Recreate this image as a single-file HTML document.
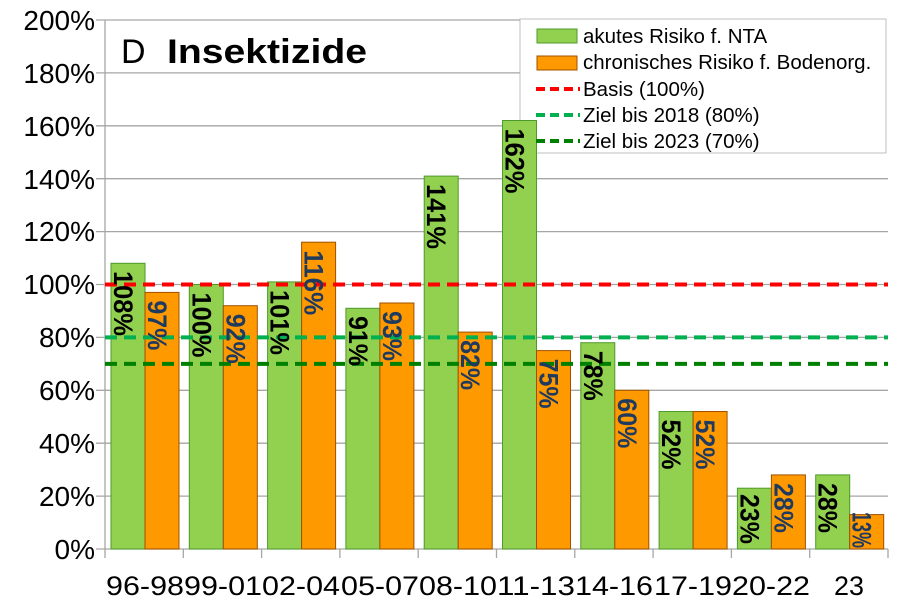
<!DOCTYPE html>
<html><head><meta charset="utf-8"><style>body{margin:0;background:#fff}svg{display:block}text{font-family:"Liberation Sans",sans-serif}</style></head><body>
<svg width="900" height="609" viewBox="0 0 900 609" xmlns="http://www.w3.org/2000/svg">
<rect x="520" y="19" width="366" height="134" fill="#fff" stroke="#bfbfbf" stroke-width="1"/>
<g stroke="#a6a6a6" stroke-width="1.3">
<line x1="96" y1="549" x2="888" y2="549"/><line x1="96" y1="496.1" x2="888" y2="496.1"/><line x1="96" y1="443.2" x2="888" y2="443.2"/><line x1="96" y1="390.3" x2="888" y2="390.3"/><line x1="96" y1="337.4" x2="888" y2="337.4"/><line x1="96" y1="284.5" x2="888" y2="284.5"/><line x1="96" y1="231.6" x2="888" y2="231.6"/><line x1="96" y1="178.7" x2="888" y2="178.7"/><line x1="96" y1="125.8" x2="520" y2="125.8"/><line x1="96" y1="72.9" x2="520" y2="72.9"/><line x1="96" y1="20" x2="520" y2="20"/>
<line x1="105" y1="20" x2="105" y2="558"/>
<line x1="183.3" y1="549" x2="183.3" y2="558"/><line x1="261.6" y1="549" x2="261.6" y2="558"/><line x1="339.9" y1="549" x2="339.9" y2="558"/><line x1="418.2" y1="549" x2="418.2" y2="558"/><line x1="496.5" y1="549" x2="496.5" y2="558"/><line x1="574.8" y1="549" x2="574.8" y2="558"/><line x1="653.1" y1="549" x2="653.1" y2="558"/><line x1="731.4" y1="549" x2="731.4" y2="558"/><line x1="809.7" y1="549" x2="809.7" y2="558"/><line x1="888" y1="549" x2="888" y2="558"/>
</g>
<g font-size="28" text-anchor="end" fill="#000">
<text x="95" y="559">0%</text><text x="95" y="506">20%</text><text x="95" y="453">40%</text><text x="95" y="400">60%</text><text x="95" y="347">80%</text><text x="95" y="294">100%</text><text x="95" y="241">120%</text><text x="95" y="189">140%</text><text x="95" y="136">160%</text><text x="95" y="83">180%</text><text x="95" y="30">200%</text>
</g>
<g stroke-width="1">
<g fill="#92d050" stroke="#4e9a2a">
<rect x="111" y="263.3" width="34" height="285.7"/>
<rect x="189.3" y="284.5" width="34" height="264.5"/>
<rect x="267.6" y="281.9" width="34" height="267.1"/>
<rect x="345.9" y="308.3" width="34" height="240.7"/>
<rect x="424.2" y="176.1" width="34" height="372.9"/>
<rect x="502.5" y="120.5" width="34" height="428.5"/>
<rect x="580.8" y="342.7" width="34" height="206.3"/>
<rect x="659.1" y="411.5" width="34" height="137.5"/>
<rect x="737.4" y="488.2" width="34" height="60.8"/>
<rect x="815.7" y="474.9" width="34" height="74.1"/>
</g>
<g fill="#ff9900" stroke="#a05000">
<rect x="145" y="292.4" width="34" height="256.6"/>
<rect x="223.3" y="305.7" width="34" height="243.3"/>
<rect x="301.6" y="242.2" width="34" height="306.8"/>
<rect x="379.9" y="303" width="34" height="246"/>
<rect x="458.2" y="332.1" width="34" height="216.9"/>
<rect x="536.5" y="350.6" width="34" height="198.4"/>
<rect x="614.8" y="390.3" width="34" height="158.7"/>
<rect x="693.1" y="411.5" width="34" height="137.5"/>
<rect x="771.4" y="474.9" width="34" height="74.1"/>
<rect x="849.7" y="514.6" width="34" height="34.4"/>
</g>
</g>
<g font-size="27" text-anchor="middle" fill="#000">
<text x="145" y="595" textLength="78" lengthAdjust="spacingAndGlyphs">96-98</text><text x="223" y="595" textLength="78" lengthAdjust="spacingAndGlyphs">99-01</text><text x="301" y="595" textLength="78" lengthAdjust="spacingAndGlyphs">02-04</text><text x="380" y="595" textLength="78" lengthAdjust="spacingAndGlyphs">05-07</text><text x="458" y="595" textLength="78" lengthAdjust="spacingAndGlyphs">08-10</text><text x="536" y="595" textLength="78" lengthAdjust="spacingAndGlyphs">11-13</text><text x="614" y="595" textLength="78" lengthAdjust="spacingAndGlyphs">14-16</text><text x="693" y="595" textLength="78" lengthAdjust="spacingAndGlyphs">17-19</text><text x="771" y="595" textLength="78" lengthAdjust="spacingAndGlyphs">20-22</text><text x="849" y="595" textLength="30" lengthAdjust="spacingAndGlyphs">23</text>
</g>
<g stroke-width="4" stroke-dasharray="12 7">
<line x1="105" y1="284.5" x2="888" y2="284.5" stroke="#ff0000"/>
<line x1="105" y1="337.4" x2="888" y2="337.4" stroke="#00b050"/>
<line x1="105" y1="363.9" x2="888" y2="363.9" stroke="#008000"/>
</g>
<g font-size="27" font-weight="bold" fill="#000">
<text transform="translate(114,271) rotate(90)" textLength="65" lengthAdjust="spacingAndGlyphs">108%</text>
<text transform="translate(192.3,292.5) rotate(90)" textLength="65" lengthAdjust="spacingAndGlyphs">100%</text>
<text transform="translate(270.6,290) rotate(90)" textLength="65" lengthAdjust="spacingAndGlyphs">101%</text>
<text transform="translate(348.9,316) rotate(90)" textLength="50" lengthAdjust="spacingAndGlyphs">91%</text>
<text transform="translate(427.2,184) rotate(90)" textLength="65" lengthAdjust="spacingAndGlyphs">141%</text>
<text transform="translate(505.5,128.5) rotate(90)" textLength="65" lengthAdjust="spacingAndGlyphs">162%</text>
<text transform="translate(583.8,350.7) rotate(90)" textLength="50" lengthAdjust="spacingAndGlyphs">78%</text>
<text transform="translate(662.1,419.5) rotate(90)" textLength="50" lengthAdjust="spacingAndGlyphs">52%</text>
<text transform="translate(740.4,494) rotate(90)" textLength="50" lengthAdjust="spacingAndGlyphs">23%</text>
<text transform="translate(818.7,483) rotate(90)" textLength="50" lengthAdjust="spacingAndGlyphs">28%</text>
</g>
<g font-size="27" font-weight="bold" fill="#1f3a5f">
<text transform="translate(148,300.4) rotate(90)" textLength="50" lengthAdjust="spacingAndGlyphs">97%</text>
<text transform="translate(226.3,313.7) rotate(90)" textLength="50" lengthAdjust="spacingAndGlyphs">92%</text>
<text transform="translate(304.6,250.2) rotate(90)" textLength="65" lengthAdjust="spacingAndGlyphs">116%</text>
<text transform="translate(382.9,311) rotate(90)" textLength="50" lengthAdjust="spacingAndGlyphs">93%</text>
<text transform="translate(461.2,340.1) rotate(90)" textLength="50" lengthAdjust="spacingAndGlyphs">82%</text>
<text transform="translate(539.5,358.6) rotate(90)" textLength="50" lengthAdjust="spacingAndGlyphs">75%</text>
<text transform="translate(617.8,398.3) rotate(90)" textLength="50" lengthAdjust="spacingAndGlyphs">60%</text>
<text transform="translate(696.1,419.5) rotate(90)" textLength="50" lengthAdjust="spacingAndGlyphs">52%</text>
<text transform="translate(774.4,483) rotate(90)" textLength="50" lengthAdjust="spacingAndGlyphs">28%</text>
<text transform="translate(852.7,512) rotate(90)" textLength="36" lengthAdjust="spacingAndGlyphs">13%</text>
</g>
<rect x="537" y="29" width="40" height="14" fill="#92d050" stroke="#4e9a2a"/>
<rect x="537" y="56" width="40" height="14" fill="#ff9900" stroke="#a05000"/>
<g stroke-width="4" stroke-dasharray="9 5">
<line x1="536" y1="89" x2="580" y2="89" stroke="#ff0000"/>
<line x1="536" y1="115" x2="580" y2="115" stroke="#00b050"/>
<line x1="536" y1="141" x2="580" y2="141" stroke="#008000"/>
</g>
<g font-size="20.5" fill="#000">
<text x="583" y="43">akutes Risiko f. NTA</text>
<text x="583" y="69">chronisches Risiko f. Bodenorg.</text>
<text x="583" y="96">Basis (100%)</text>
<text x="583" y="122">Ziel bis 2018 (80%)</text>
<text x="583" y="148">Ziel bis 2023 (70%)</text>
</g>
<text x="121" y="63" font-size="34" fill="#000">D</text>
<text x="167" y="63" font-size="34" font-weight="bold" fill="#000" textLength="200" lengthAdjust="spacingAndGlyphs">Insektizide</text>
</svg>
</body></html>
